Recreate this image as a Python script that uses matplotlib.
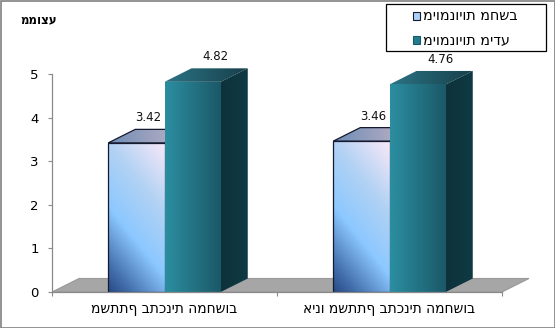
import numpy as np
import matplotlib
matplotlib.use("Agg")
import matplotlib.pyplot as plt
from matplotlib.patches import Polygon, Rectangle
from matplotlib.colors import LinearSegmentedColormap

plt.rcParams["font.family"] = ["DejaVu Sans"]

# data
categories = ["משתתף בתכנית המחשוב", "אינו משתתף בתכנית המחשוב"]
series_names = ["מיומנויות מחשב", "מיומנויות מידע"]
computer_skills = [3.42, 3.46]
info_skills = [4.82, 4.76]
y_title = "ממוצע"
y_ticks = [0, 1, 2, 3, 4, 5]

BAR_W = 0.25
DX, DY = 0.12, 0.31  # 3d depth offset, in data units

fig = plt.figure(figsize=(5.55, 3.28), dpi=100)
W, H = 555, 328
ax = fig.add_axes([52 / W, (H - 292) / H, 2.2 * 225 / W, 5.9 * 43.6 / H])
ax.set_xlim(-0.5, 1.7)
ax.set_ylim(0, 5.9)
ax.set_autoscale_on(False)
ax.patch.set_alpha(0)


def grad_fill(verts, stops, kind, zorder, edge=None):
    verts = np.asarray(verts, dtype=float)
    poly = Polygon(verts, closed=True, facecolor="none",
                   edgecolor=edge if edge else "none", lw=0.9, zorder=zorder + 0.1)
    ax.add_patch(poly)
    x0, x1 = verts[:, 0].min(), verts[:, 0].max()
    y0, y1 = verts[:, 1].min(), verts[:, 1].max()
    n = 96
    u, v = np.meshgrid(np.linspace(0, 1, n), np.linspace(0, 1, n))
    if kind == "diag":
        t = (0.47 * u + v) / 1.47
    else:
        t = u
    cmap = LinearSegmentedColormap.from_list("g", stops)
    im = ax.imshow(t, cmap=cmap, vmin=0, vmax=1, extent=(x0, x1, y0, y1),
                   origin="lower", aspect="auto", interpolation="bilinear",
                   zorder=zorder)
    im.set_clip_path(poly)
    return poly


def box(x, w, h, front, top, side, kind, edge=None, z=3):
    grad_fill([(x, 0), (x + w, 0), (x + w, h), (x, h)], front, kind, z, edge)
    grad_fill([(x, h), (x + w, h), (x + w + DX, h + DY), (x + DX, h + DY)],
              top, "horiz", z, edge)
    if side is not None:
        grad_fill([(x + w, 0), (x + w + DX, DY), (x + w + DX, h + DY), (x + w, h)],
                  side, "horiz", z)


# floor
ax.add_patch(Polygon([(-0.5, 0), (1.5, 0), (1.5 + DX, DY), (-0.5 + DX, DY)],
                     closed=True, facecolor="#a6a6a6", edgecolor="#9a9a9a",
                     lw=0.8, zorder=1))

light_front = [(0.0, "#284a84"), (0.13, "#4470ae"), (0.39, "#8cc8ff"),
               (0.68, "#b2d2f4"), (1.0, "#f8e8f8")]
light_top = ["#6e8cb6", "#c6b6c6"]
teal_front = ["#2b8ea1", "#1b5867"]
teal_top = ["#2c7384", "#173f4a"]
teal_side = ["#0e323b", "#0f3a44"]

x = np.arange(len(categories))
for i in range(len(categories)):
    v1, v2 = computer_skills[i], info_skills[i]
    box(x[i] - BAR_W, BAR_W, v1, light_front, light_top, None, "diag",
        edge="#151a2e", z=3)
    box(x[i], BAR_W, v2, teal_front, teal_top, teal_side, "horiz", z=5)
    ax.annotate(f"{v1:.2f}", xy=(x[i] - BAR_W / 2 + 0.44 * DX, v1),
                xytext=(0, 18), textcoords="offset points",
                ha="center", va="center", fontsize=8.5, color="#111111")
    ax.annotate(f"{v2:.2f}", xy=(x[i] + BAR_W / 2 + 0.85 * DX, v2),
                xytext=(0, 18), textcoords="offset points",
                ha="center", va="center", fontsize=8.5, color="#111111")

# axes
for s in ["top", "right"]:
    ax.spines[s].set_visible(False)
for s in ["left", "bottom"]:
    ax.spines[s].set_color("#8a8a8a")
    ax.spines[s].set_linewidth(0.9)
    ax.spines[s].set_zorder(8)
ax.spines["left"].set_bounds(0, 5)
ax.spines["bottom"].set_bounds(-0.5, 1.5)

ax.set_yticks(y_ticks)
ax.set_yticklabels([str(t) for t in y_ticks], fontsize=9.5)
ax.tick_params(axis="y", length=3, color="#8a8a8a", pad=6.5)

ax.set_xticks([-0.5, 0.5, 1.5])
ax.set_xticklabels([])
ax.set_xticks(x, minor=True)
ax.set_xticklabels(categories, minor=True, fontsize=10)
ax.tick_params(axis="x", which="major", length=3, color="#8a8a8a")
ax.tick_params(axis="x", which="minor", length=0, pad=7.5)

# y axis title
fig.text(39 / W, 1 - 20 / H, y_title, ha="center", va="center",
         fontsize=8.5, fontweight="bold")

# legend frame and entries
fig.patches.append(Rectangle((386 / W, 1 - 51 / H), 160 / W, 47 / H,
                             transform=fig.transFigure, fill=False,
                             edgecolor="black", lw=0.9))
legend_colors = [("#a9d2fa", "#151a2e"), ("#237c8e", "#1a5a68")]
for j, (name, (fc, ec)) in enumerate(zip(series_names, legend_colors)):
    yc = 16 + j * 24
    fig.patches.append(Rectangle((413 / W, 1 - (yc + 3.5) / H), 7 / W, 7 / H,
                                 transform=fig.transFigure, facecolor=fc,
                                 edgecolor=ec, lw=0.8))
    fig.text(423 / W, 1 - yc / H, name, ha="left", va="center", fontsize=10.3)

# outer border
fig.patches.append(Rectangle((0.5 / W, 0.5 / H), 1 - 1 / W, 1 - 1 / H,
                             transform=fig.transFigure, fill=False,
                             edgecolor="#808080", lw=1.2))

fig.savefig("out.png", dpi=100)
